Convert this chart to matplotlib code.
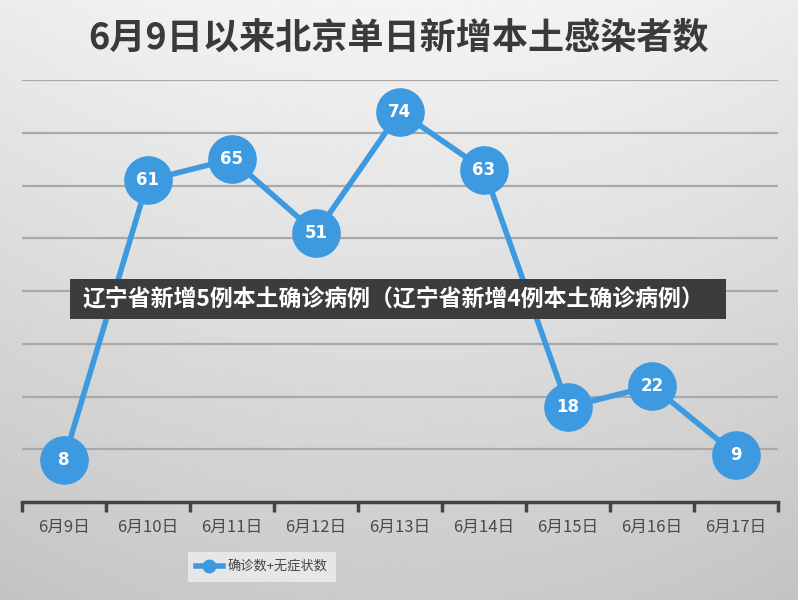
import numpy as np
import matplotlib.pyplot as plt
from matplotlib.lines import Line2D
from matplotlib.patches import Rectangle

plt.rcParams['font.family'] = ['Noto Sans CJK SC', 'DejaVu Sans']

# data
dates = ['6月9日', '6月10日', '6月11日', '6月12日', '6月13日',
         '6月14日', '6月15日', '6月16日', '6月17日']
cases = [8, 61, 65, 51, 74, 63, 18, 22, 9]
grid_vals = [10, 20, 30, 40, 50, 60, 70, 80]

title = '6月9日以来北京单日新增本土感染者数'
series_name = '确诊数+无症状数'
banner = '辽宁省新增5例本土确诊病例（辽宁省新增4例本土确诊病例）'

blue = '#3d9ae0'

fig = plt.figure(figsize=(7.98, 6.0), dpi=100)

# background gradient
bg = fig.add_axes([0, 0, 1, 1], zorder=0)
yy = np.linspace(0, 1, 300)[:, None]
xx = np.linspace(-1, 1, 400)[None, :]
shade = 0.955 - 0.16 * yy - 0.03 * xx ** 2
bg.imshow(shade, cmap='gray', vmin=0, vmax=1, aspect='auto',
          extent=[0, 1, 0, 1], origin='upper')
bg.set_xlim(0, 1)
bg.set_ylim(0, 1)
bg.axis('off')

ax = fig.add_axes([22 / 798, 98 / 600, 756 / 798, 422 / 600], zorder=1)
ax.patch.set_alpha(0)
x = np.arange(len(dates))

for g in grid_vals:
    ax.axhline(g, color='#a9a9a9', lw=1.6, zorder=1)

ax.plot(x, cases, color=blue, lw=4, marker='o', markersize=34,
        markerfacecolor=blue, markeredgecolor=blue, zorder=3, clip_on=False)
for xi, v in zip(x, cases):
    ax.text(xi, v, str(v), ha='center', va='center', color='white',
            fontsize=12, fontweight='bold', zorder=4, family='DejaVu Sans')

ax.set_xlim(-0.5, len(dates) - 0.5)
ax.set_ylim(0, 80)
ax.set_yticks([])
ax.set_xticks(x)
ax.set_xticklabels(dates, fontsize=12, color='#4a4a4a')
ax.set_xticks(np.arange(-0.5, len(dates)), minor=True)
ax.tick_params(axis='x', which='major', length=0, pad=12)
ax.tick_params(axis='x', which='minor', length=7, width=2.5, color='#444444')
for s in ['top', 'left', 'right']:
    ax.spines[s].set_visible(False)
ax.spines['bottom'].set_color('#444444')
ax.spines['bottom'].set_linewidth(2.5)

fig.text(0.5, 1 - 38 / 600, title, ha='center', va='center',
         fontsize=26, fontweight='bold', color='#3a3a3a')

handle = Line2D([], [], color=blue, lw=4, marker='o', markersize=9)
leg = fig.legend([handle], [series_name], loc='center',
                 bbox_to_anchor=(262 / 798, 1 - 567 / 600), fontsize=9.5,
                 frameon=True, fancybox=False, handlelength=2.0,
                 handletextpad=0.4, borderpad=0.6, borderaxespad=0)
leg.get_frame().set_facecolor('#eeeeee')
leg.get_frame().set_edgecolor('none')
for t in leg.get_texts():
    t.set_color('#444444')

# overlay banner
fig.patches.append(Rectangle((70 / 798, 1 - 319 / 600), 656 / 798, 40 / 600,
                             transform=fig.transFigure, facecolor='#3c3c3c',
                             edgecolor='none', zorder=5))
fig.text(82 / 798, 1 - 299 / 600, banner, ha='left', va='center',
         fontsize=16.5, fontweight='bold', color='white', zorder=6)

fig.savefig('out.png', dpi=100)
